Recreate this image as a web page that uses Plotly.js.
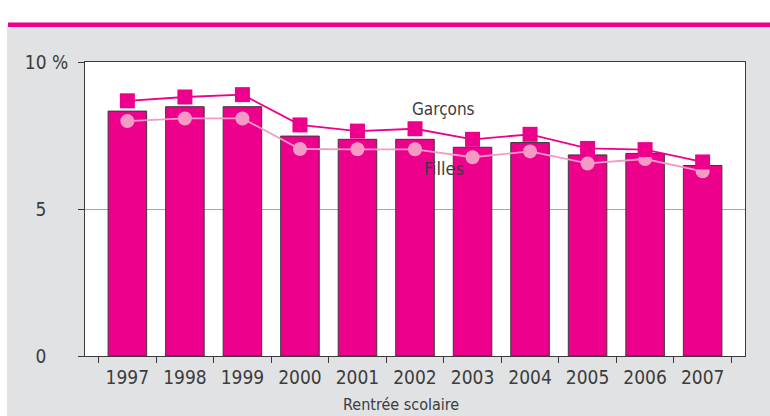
<!DOCTYPE html>
<html>
<head>
<meta charset="utf-8">
<script src="https://cdn.plot.ly/plotly-3.0.1.min.js"></script>
<style>
  html, body { margin: 0; padding: 0; background: #ffffff; }
  #chart { width: 770px; height: 416px; }
</style>
</head>
<body>
<div id="chart"></div>
<script>
// Data
const years = ['1997','1998','1999','2000','2001','2002','2003','2004','2005','2006','2007'];
const ensemble = [8.33, 8.48, 8.48, 7.48, 7.37, 7.37, 7.10, 7.26, 6.84, 6.89, 6.48];
const garcons  = [8.68, 8.81, 8.89, 7.86, 7.65, 7.73, 7.37, 7.54, 7.06, 7.02, 6.60];
const filles   = [7.99, 8.08, 8.08, 7.04, 7.03, 7.03, 6.76, 6.96, 6.55, 6.70, 6.28];
const yTickVals = [0, 5, 10];
const yTickText = ['0', '5', '10 %'];

const FONT = '"Liberation Sans Narrow", "DejaVu Sans Condensed", "Liberation Sans", sans-serif';
const PINK = '#ec008c';
const LIGHT_PINK = '#f49ac5';
const TEXT = '#3c3c3c';

const traces = [
  {
    type: 'bar', name: 'Ensemble', x: years, y: ensemble,
    marker: { color: PINK, line: { color: '#3a3a3a', width: 1 } },
    hoverinfo: 'x+y'
  },
  {
    type: 'scatter', mode: 'lines+markers', name: 'Filles', x: years, y: filles,
    line: { color: LIGHT_PINK, width: 1.8 },
    marker: { symbol: 'circle', size: 14, color: LIGHT_PINK }
  },
  {
    type: 'scatter', mode: 'lines+markers', name: 'Garçons', x: years, y: garcons,
    line: { color: PINK, width: 1.8 },
    marker: { symbol: 'square', size: 15, color: PINK }
  }
];

// pixel helpers for decorative frame (plot area: x 85..745, y 62..356)
const L = 85, R = 745, T = 62, B = 356;
const px = v => (v - L) / (R - L);
const py = v => (B - v) / (B - T);

const layout = {
  width: 770, height: 416,
  margin: { l: L, r: 770 - R, t: T, b: 416 - B, pad: 0 },
  paper_bgcolor: '#ffffff',
  plot_bgcolor: '#ffffff',
  showlegend: false,
  bargap: 0.33,
  font: { family: FONT, size: 19, color: TEXT },
  xaxis: {
    type: 'category',
    showline: true, linecolor: '#3a3a3a', linewidth: 1, mirror: true,
    ticks: 'outside', tickson: 'boundaries', ticklen: 6, tickcolor: '#3a3a3a',
    showgrid: false, zeroline: false,
    tickfont: { family: FONT, size: 19, color: TEXT },
    ticklabelstandoff: 4,
    fixedrange: true
  },
  yaxis: {
    range: [0, 10],
    tickvals: yTickVals, ticktext: yTickText.map((t, i) => i < 2 ? t + '\u00a0\u00a0\u00a0\u00a0' : t),
    showline: true, linecolor: '#3a3a3a', linewidth: 1, mirror: true,
    ticks: 'outside', ticklen: 6, tickcolor: '#3a3a3a',
    showgrid: true, gridcolor: '#a8a8a8', gridwidth: 1,
    zeroline: false,
    tickfont: { family: FONT, size: 19, color: TEXT },
    ticklabelstandoff: 6,
    fixedrange: true
  },
  shapes: [
    { type: 'rect', xref: 'paper', yref: 'paper', layer: 'below',
      x0: px(7), x1: px(772), y0: py(418), y1: py(27),
      fillcolor: '#e1e2e4', line: { width: 0 } },
    { type: 'rect', xref: 'paper', yref: 'paper', layer: 'below',
      x0: px(8), x1: px(772), y0: py(27), y1: py(22.5),
      fillcolor: PINK, line: { width: 0 } },
    { type: 'rect', xref: 'paper', yref: 'paper', layer: 'below',
      x0: 0, x1: 1, y0: 0, y1: 1,
      fillcolor: '#ffffff', line: { width: 0 } }
  ],
  annotations: [
    { text: 'Garçons', xref: 'x', yref: 'y', x: 5.5, y: 8.4, showarrow: false,
      font: { family: FONT, size: 17, color: TEXT }, xanchor: 'center', yanchor: 'middle' },
    { text: 'Filles', xref: 'x', yref: 'y', x: 5.5, y: 6.38, showarrow: false,
      font: { family: FONT, size: 18, color: TEXT }, xanchor: 'center', yanchor: 'middle' },
    { text: 'Rentrée scolaire', xref: 'paper', yref: 'paper', x: px(401), y: py(404),
      showarrow: false, font: { family: FONT, size: 16, color: TEXT },
      xanchor: 'center', yanchor: 'middle' }
  ]
};

Plotly.newPlot('chart', traces, layout, { staticPlot: true, displayModeBar: false });
</script>
</body>
</html>
